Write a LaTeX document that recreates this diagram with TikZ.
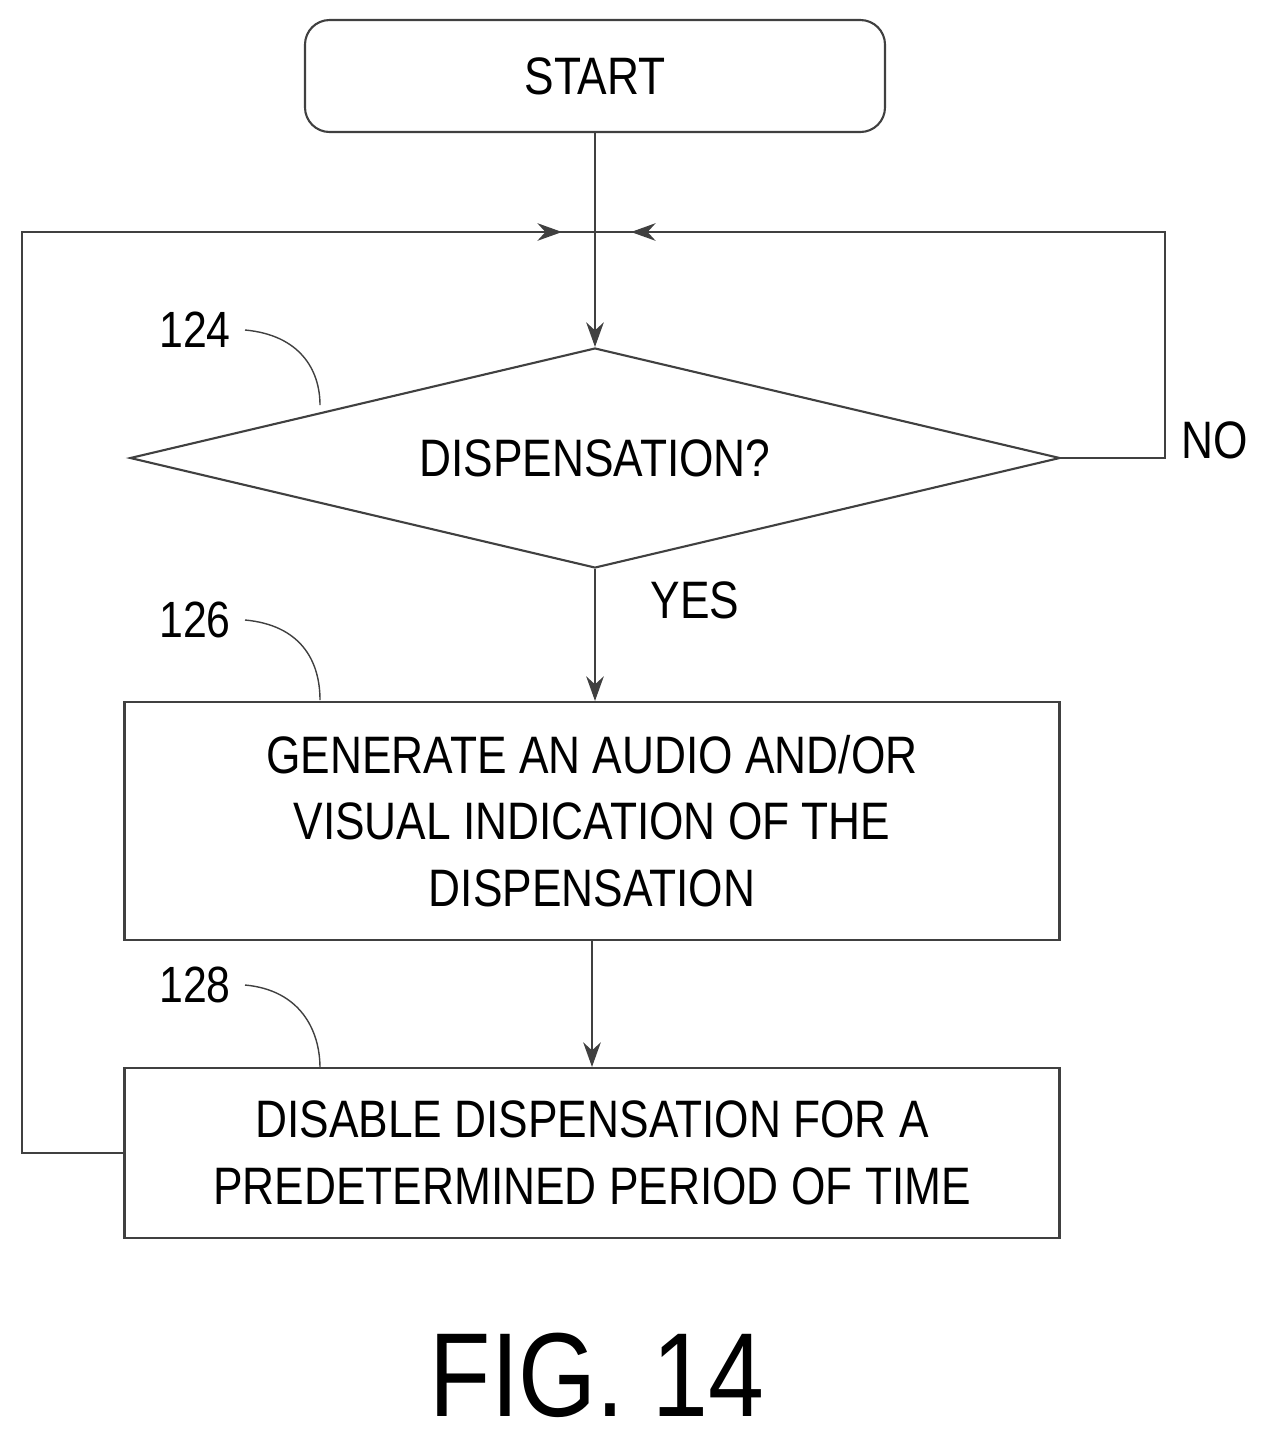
\documentclass[tikz,border=0pt]{standalone}
\usepackage{fontspec}
\setmainfont[FakeStretch=0.84]{Liberation Sans}
\usetikzlibrary{shapes.geometric,arrows.meta}
\begin{document}
\begin{tikzpicture}[x=0.02cm,y=-0.02cm,
  line/.style={draw=black!75,line width=1.2pt},
  arr/.style={line,-{Stealth[length=14pt,width=10pt]}},
  txt/.style={font=\fontsize{30}{38}\selectfont,align=center},
  num/.style={font=\fontsize{29}{34}\selectfont}]
\useasboundingbox (0,0) rectangle (1265,1445);
\node[line,rounded corners=14pt,minimum width=580*0.02cm,minimum height=112*0.02cm,txt] (start) at (595,76) {START};
\node[line,diamond,aspect=4.23,minimum width=930*0.02cm,minimum height=220*0.02cm,inner sep=0pt,txt] (dec) at (595,458) {DISPENSATION?};
\node[line,minimum width=935*0.02cm,minimum height=238*0.02cm,txt] (b1) at (592,821) {GENERATE AN AUDIO AND/OR\\VISUAL INDICATION OF THE\\DISPENSATION};
\node[line,minimum width=935*0.02cm,minimum height=170*0.02cm,txt] (b2) at (592,1153) {DISABLE DISPENSATION FOR A\\PREDETERMINED PERIOD OF TIME};
\coordinate (j) at (595,232);
\coordinate (r1) at (1165,458);
\coordinate (r2) at (1165,232);
\coordinate (l1) at (22,1153);
\coordinate (l2) at (22,232);
\draw[arr] (start.south) -- (dec.north);
\draw[arr] (dec.south) -- (dec.south |- b1.north);
\draw[arr] (b1.south) -- (b2.north);
\draw[line] (dec.east) -- (r1) -- (r2) -- (j);
\draw[arr] (r2) -- (631,232);
\draw[line] (b2.west) -- (l1) -- (l2) -- (j);
\draw[arr] (l2) -- (562,232);
\node[txt] (yes) at (695,600) {YES};
\node[txt] (no) at (1215,440) {NO};
\node[num] (n124) at (195,330) {124};
\node[num] (n126) at (195,620) {126};
\node[num] (n128) at (195,985) {128};
\draw[draw=black!75,line width=0.8pt] (245,330) .. controls (300,335) and (320,370) .. (320,405);
\draw[draw=black!75,line width=0.8pt] (245,620) .. controls (300,625) and (320,660) .. (320,700);
\draw[draw=black!75,line width=0.8pt] (245,985) .. controls (300,990) and (320,1030) .. (320,1068);
\node[font=\fontsize{68}{70}\selectfont,inner sep=0pt] (fig) at (597,1375) {FIG. 14};
\end{tikzpicture}
\end{document}
